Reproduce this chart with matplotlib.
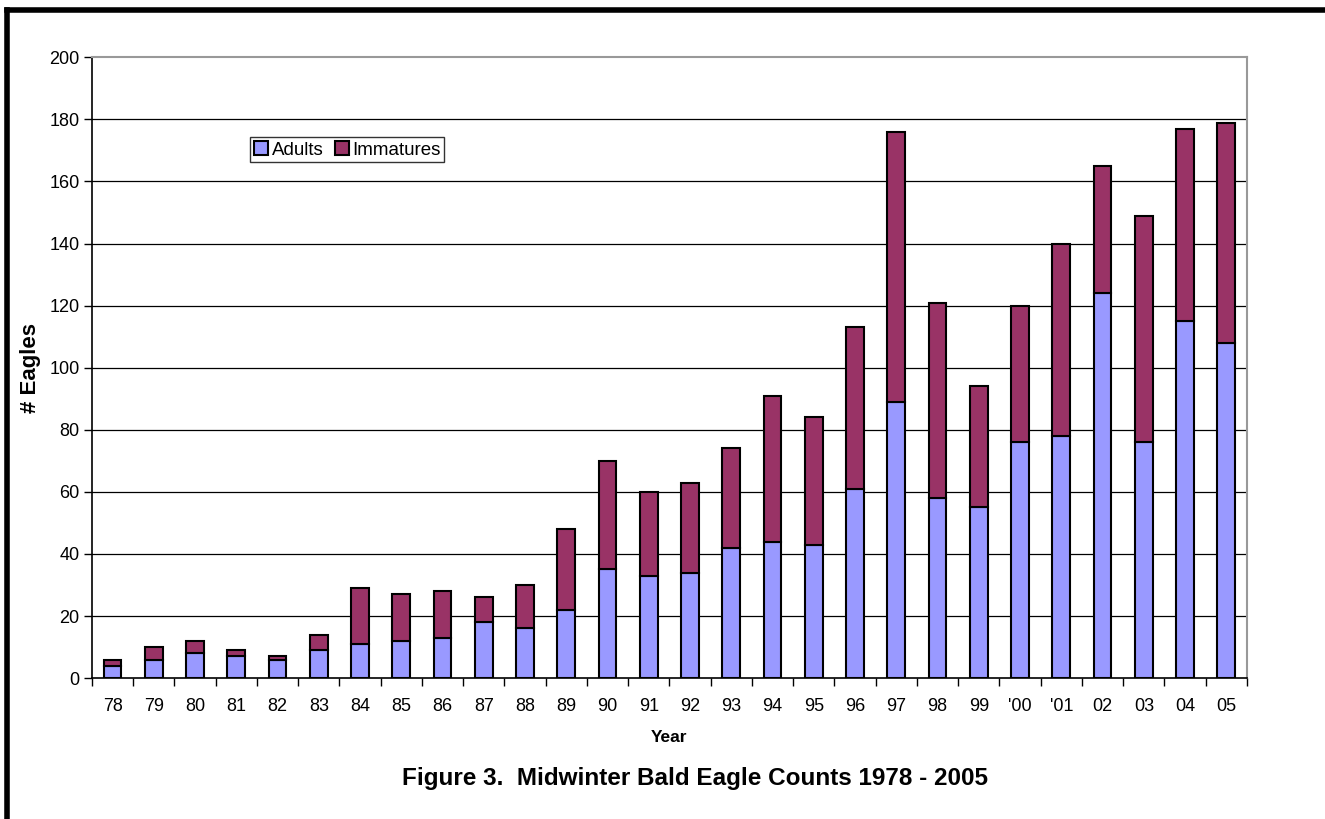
import matplotlib.pyplot as plt
from matplotlib.lines import Line2D

plt.rcParams['font.family'] = ['Liberation Sans', 'DejaVu Sans']

years = ['78', '79', '80', '81', '82', '83', '84', '85', '86', '87', '88', '89', '90', '91',
         '92', '93', '94', '95', '96', '97', '98', '99', "'00", "'01", '02', '03', '04', '05']
adults = [4, 6, 8, 7, 6, 9, 11, 12, 13, 18, 16, 22, 35, 33,
          34, 42, 44, 43, 61, 89, 58, 55, 76, 78, 124, 76, 115, 108]
totals = [6, 10, 12, 9, 7, 14, 29, 27, 28, 26, 30, 48, 70, 60,
          63, 74, 91, 84, 113, 176, 121, 94, 120, 140, 165, 149, 177, 179]
immatures = [t - a for t, a in zip(totals, adults)]

fig = plt.figure(figsize=(13.25, 8.19), dpi=100)
ax = fig.add_axes([0.0694, 0.172, 0.8717, 0.758])

x = list(range(len(years)))
ax.bar(x, adults, width=0.43, color='#9999FF', edgecolor='black', linewidth=1.5,
       label='Adults', zorder=3)
ax.bar(x, immatures, width=0.43, bottom=adults, color='#993366', edgecolor='black',
       linewidth=1.5, label='Immatures', zorder=3)

ax.set_xlim(-0.5, len(years) - 0.5)
ax.set_ylim(0, 200)
ax.set_yticks(range(0, 201, 20))
for v in range(20, 200, 20):
    ax.axhline(v, color='black', linewidth=0.9, zorder=1)

ax.set_xticks(x)
ax.set_xticklabels(years, fontsize=13)
ax.set_xticks([i - 0.5 for i in range(len(years) + 1)], minor=True)
ax.tick_params(axis='x', which='major', length=0, pad=14)
ax.tick_params(axis='x', which='minor', length=6, direction='out', width=1)
ax.tick_params(axis='y', length=6, direction='out', width=1, labelsize=13, pad=3)

for s in ['top', 'right']:
    ax.spines[s].set_color('#999999')
    ax.spines[s].set_linewidth(1.5)
for s in ['left', 'bottom']:
    ax.spines[s].set_color('black')
    ax.spines[s].set_linewidth(1.2)

ax.set_xlabel('Year', fontsize=12.5, fontweight='bold', labelpad=11)
ax.set_ylabel('# Eagles', fontsize=16, fontweight='bold', labelpad=6)

leg = ax.legend(loc='upper left', bbox_to_anchor=(0.1368, 0.871), ncol=2, fontsize=13.5,
                frameon=True, fancybox=False, edgecolor='black', handlelength=0.75,
                handleheight=0.75, handletextpad=0.2, columnspacing=0.6,
                borderpad=0.2, borderaxespad=0)
leg.get_frame().set_linewidth(1)

fig.text(0.5245, 0.05, 'Figure 3.  Midwinter Bald Eagle Counts 1978 - 2005',
         ha='center', va='center', fontsize=17.5, fontweight='bold')

# page frame on top and left
fig.add_artist(Line2D([0.0053, 1.0], [0.988, 0.988], transform=fig.transFigure,
                      color='black', linewidth=4))
fig.add_artist(Line2D([0.0053, 0.0053], [0.0, 0.988], transform=fig.transFigure,
                      color='black', linewidth=4))

fig.savefig('out.png', dpi=100)
